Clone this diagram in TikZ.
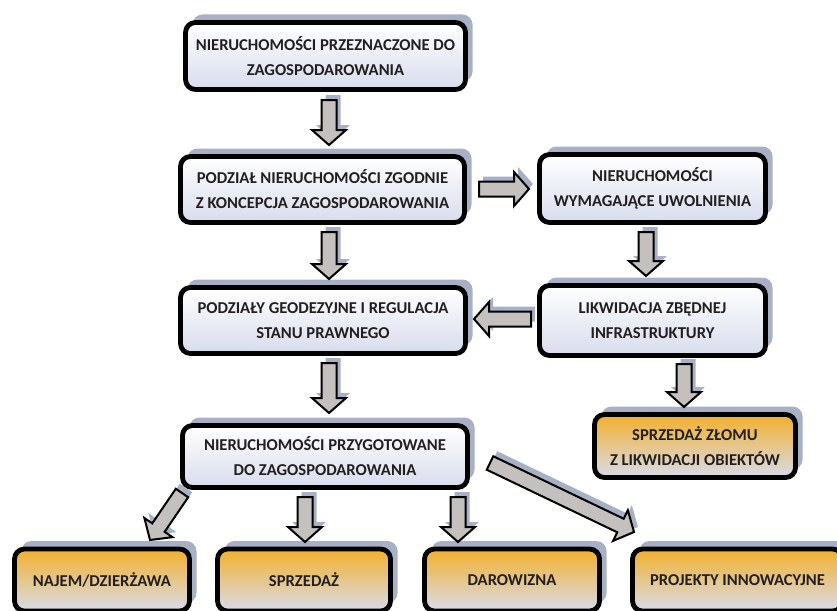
\documentclass[tikz,border=0pt]{standalone}
\usepackage{fontspec}
\setmainfont{Carlito}
\usetikzlibrary{shadows}

\definecolor{boxshadow}{RGB}{168,176,198}
\definecolor{boxlow}{RGB}{216,220,236}
\definecolor{boxorange}{RGB}{242,176,44}
\definecolor{boxmid}{RGB}{245,220,182}
\definecolor{arrowfill}{RGB}{196,192,190}
\definecolor{textcol}{RGB}{35,31,32}

\tikzset{
  flowbox/.style={draw=black, line width=4.8pt, rounded corners=10pt,
    align=center, text=textcol, inner sep=0pt,
    font=\bfseries\fontsize{16.6}{25}\selectfont,
    general shadow={shadow xshift=7pt, shadow yshift=8pt, fill=boxshadow}},
  plainbox/.style={flowbox, top color=white, bottom color=boxlow},
  goalbox/.style={flowbox, top color=boxorange, middle color=boxmid, bottom color=boxlow},
  blockarrow/.style={fill=arrowfill, draw=black, line width=2pt, line join=miter},
  arrowshade/.style={fill=boxshadow},
}

% wide block arrow from one named coordinate to another
\newcommand{\blockarr}[2]{%
  \pgfpointanchor{#1}{center}\pgfgetlastxy{\baXa}{\baYa}%
  \pgfpointanchor{#2}{center}\pgfgetlastxy{\baXb}{\baYb}%
  \pgfmathanglebetweenpoints{\pgfpoint{\baXa}{\baYa}}{\pgfpoint{\baXb}{\baYb}}%
  \let\baAng\pgfmathresult
  \pgfmathveclen{\baXb-\baXa}{\baYb-\baYa}\let\baLen\pgfmathresult
  \pgfmathsetmacro\baNeck{\baLen-15}%
  \begin{scope}[shift={(\baXa+4pt,\baYa+5pt)}, rotate=\baAng]
    \fill[arrowshade] (0pt,-7.5pt) -- (\baNeck pt,-7.5pt) -- (\baNeck pt,-17pt)
      -- (\baLen pt,0pt) -- (\baNeck pt,17pt) -- (\baNeck pt,7.5pt) -- (0pt,7.5pt) -- cycle;
  \end{scope}
  \begin{scope}[shift={(\baXa,\baYa)}, rotate=\baAng]
    \filldraw[blockarrow] (0pt,-7.5pt) -- (\baNeck pt,-7.5pt) -- (\baNeck pt,-17pt)
      -- (\baLen pt,0pt) -- (\baNeck pt,17pt) -- (\baNeck pt,7.5pt) -- (0pt,7.5pt) -- cycle;
  \end{scope}%
}

\begin{document}
\begin{tikzpicture}[x=1pt, y=-1pt]
  \useasboundingbox (0,0) rectangle (837,610);
  \clip (0,0) rectangle (837,610);

  % process boxes
  \node[plainbox, minimum width=280pt, minimum height=67pt] (b1) at (325.5,56)
    {NIERUCHOMOŚCI PRZEZNACZONE DO\\ZAGOSPODAROWANIA};
  \node[plainbox, minimum width=284pt, minimum height=66pt] (b2) at (322.5,189.5)
    {PODZIAŁ NIERUCHOMOŚCI ZGODNIE\\Z KONCEPCJA ZAGOSPODAROWANIA};
  \node[plainbox, minimum width=226pt, minimum height=68pt] (b3) at (652.5,188.5)
    {NIERUCHOMOŚCI\\WYMAGAJĄCE UWOLNIENIA};
  \node[plainbox, minimum width=285pt, minimum height=66pt] (b4) at (323,320.5)
    {PODZIAŁY GEODEZYJNE I REGULACJA\\STANU PRAWNEGO};
  \node[plainbox, minimum width=226pt, minimum height=70pt] (b5) at (652.5,320.5)
    {LIKWIDACJA ZBĘDNEJ\\INFRASTRUKTURY};
  \node[goalbox, minimum width=201pt, minimum height=63pt] (b6) at (695,446)
    {SPRZEDAŻ ZŁOMU\\Z LIKWIDACJI OBIEKTÓW};
  \node[plainbox, minimum width=285pt, minimum height=62pt] (b7) at (325,456.5)
    {NIERUCHOMOŚCI PRZYGOTOWANE\\DO ZAGOSPODAROWANIA};

  % outcome boxes along the bottom
  \node[goalbox, minimum width=175pt, minimum height=62pt] (n1) at (102,580) {NAJEM/DZIERŻAWA};
  \node[goalbox, minimum width=173pt, minimum height=62pt] (n2) at (304,580) {SPRZEDAŻ};
  \node[goalbox, minimum width=175pt, minimum height=62pt] (n3) at (512,580) {DAROWIZNA};
  \node[goalbox, minimum width=210pt, minimum height=62pt] (n4) at (737.5,580) {PROJEKTY INNOWACYJNE};

  % arrow end points
  \coordinate (a1s) at (329,100);  \coordinate (a1e) at (329,145);
  \coordinate (a2s) at (479,189);  \coordinate (a2e) at (529,189);
  \coordinate (a3s) at (329,232);  \coordinate (a3e) at (329,279);
  \coordinate (a4s) at (646,232);  \coordinate (a4e) at (646,276);
  \coordinate (a5s) at (531,319);  \coordinate (a5e) at (474,319);
  \coordinate (a6s) at (329,363);  \coordinate (a6e) at (329,413);
  \coordinate (a7s) at (684,364);  \coordinate (a7e) at (684,407);
  \coordinate (a8s) at (182,493);  \coordinate (a8e) at (150,540);
  \coordinate (a9s) at (305,497);  \coordinate (a9e) at (305,542);
  \coordinate (a10s) at (458,497); \coordinate (a10e) at (458,542);
  \coordinate (a11s) at (490,463); \coordinate (a11e) at (634,532);

  \blockarr{a1s}{a1e}
  \blockarr{a2s}{a2e}
  \blockarr{a3s}{a3e}
  \blockarr{a4s}{a4e}
  \blockarr{a5s}{a5e}
  \blockarr{a6s}{a6e}
  \blockarr{a7s}{a7e}
  \blockarr{a8s}{a8e}
  \blockarr{a9s}{a9e}
  \blockarr{a10s}{a10e}
  \blockarr{a11s}{a11e}
\end{tikzpicture}
\end{document}
